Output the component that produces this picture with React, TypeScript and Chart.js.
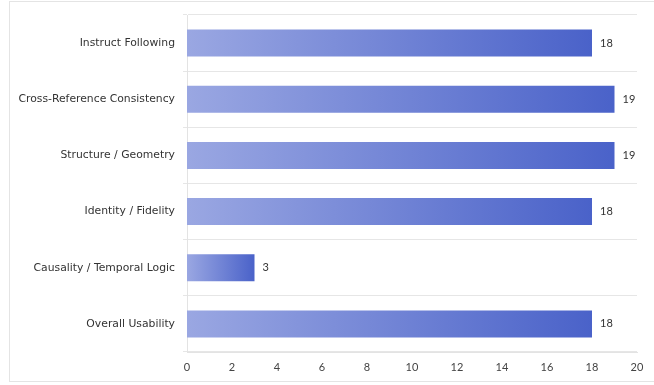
import React, { useEffect, useRef } from "react";
import { Chart, registerables } from "chart.js";

Chart.register(...registerables);

const categories = [
  "Instruct Following",
  "Cross-Reference Consistency",
  "Structure / Geometry",
  "Identity / Fidelity",
  "Causality / Temporal Logic",
  "Overall Usability",
];
const scores = [18, 19, 19, 18, 3, 18];
const xTicks = [0, 2, 4, 6, 8, 10, 12, 14, 16, 18, 20];

const labelFont = "'DejaVu Sans', sans-serif";
const numFont = "Lato, 'Open Sans', sans-serif";

const valueLabels = {
  id: "valueLabels",
  afterDatasetsDraw(chart: any) {
    const ctx = chart.ctx;
    const meta = chart.getDatasetMeta(0);
    ctx.save();
    ctx.font = `11px ${numFont}`;
    ctx.fillStyle = "#333";
    ctx.textAlign = "left";
    ctx.textBaseline = "middle";
    meta.data.forEach((bar: any, i: number) => {
      ctx.fillText(String(scores[i]), bar.x + 8, bar.y);
    });
    ctx.restore();
  },
};

export default function App() {
  const ref = useRef<HTMLCanvasElement | null>(null);
  useEffect(() => {
    if (!ref.current) return;
    const chart = new Chart(ref.current, {
      type: "bar",
      data: {
        labels: categories,
        datasets: [
          {
            data: scores,
            backgroundColor: (c: any) => {
              const ch = c.chart;
              const xs = ch.scales?.x;
              if (!xs || c.dataIndex === undefined) return "#6a80d8";
              const x0 = xs.getPixelForValue(0);
              const x1 = xs.getPixelForValue(scores[c.dataIndex]);
              if (!isFinite(x0) || !isFinite(x1) || x1 <= x0) return "#6a80d8";
              const g = ch.ctx.createLinearGradient(x0, 0, x1, 0);
              g.addColorStop(0, "#9aa7e2");
              g.addColorStop(1, "#4a62c9");
              return g;
            },
            borderWidth: 0,
            barPercentage: 0.6,
            categoryPercentage: 0.8,
          },
        ],
      },
      options: {
        indexAxis: "y",
        animation: false,
        responsive: false,
        maintainAspectRatio: false,
        layout: { padding: { left: 0, right: 17, top: 15, bottom: 0 } },
        plugins: { legend: { display: false }, tooltip: { enabled: false } },
        scales: {
          x: {
            min: 0,
            max: 20,
            afterBuildTicks: (s: any) => {
              s.ticks = xTicks.map((v) => ({ value: v }));
            },
            afterFit: (s: any) => {
              s.height = 33;
            },
            grid: { display: false, drawTicks: false },
            border: { display: true, color: "#e3e3e3" },
            ticks: {
              padding: 9,
              color: "#444",
              font: { family: numFont, size: 11 },
            },
          },
          y: {
            afterFit: (s: any) => {
              s.width = 187;
            },
            grid: { color: "#e6e6e6", tickLength: 4, offset: true },
            border: { display: true, color: "#e3e3e3" },
            ticks: {
              padding: 8,
              color: "#333",
              font: { family: labelFont, size: 10.8 },
            },
          },
        },
      },
      plugins: [valueLabels],
    });
    return () => chart.destroy();
  }, []);
  return (
    <div style={{ position: "fixed", left: 0, top: 0, width: 654, height: 385 }}>
      <div
        style={{
          position: "absolute",
          left: 9,
          top: 1,
          width: 700,
          height: 381,
          border: "1px solid #e4e4e4",
          boxSizing: "border-box",
        }}
      />
      <canvas
        ref={ref}
        width={654}
        height={385}
        style={{ position: "absolute", left: 0, top: 0, width: 654, height: 385 }}
      />
    </div>
  );
}
